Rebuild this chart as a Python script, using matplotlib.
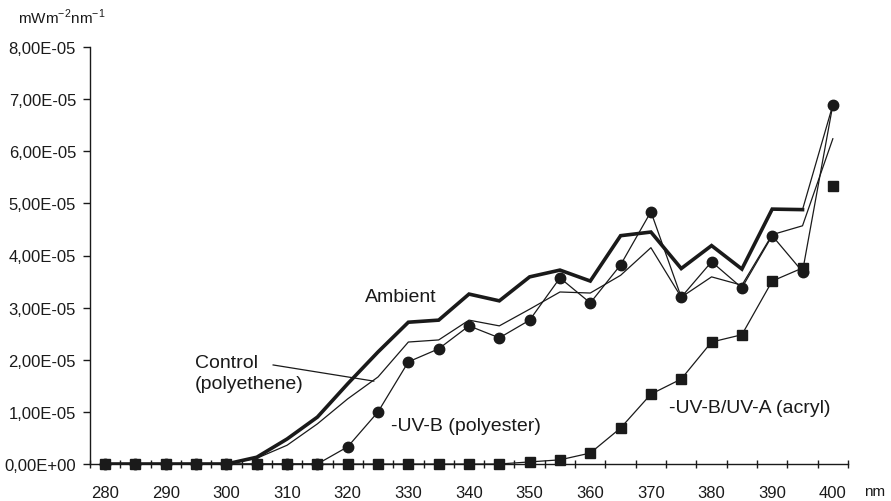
import matplotlib
matplotlib.use("Agg")
import matplotlib.pyplot as plt

plt.rcParams['font.family'] = ['Liberation Sans', 'DejaVu Sans']

wavelength = [280, 285, 290, 295, 300, 305, 310, 315, 320, 325, 330, 335, 340,
              345, 350, 355, 360, 365, 370, 375, 380, 385, 390, 395, 400]
ambient = [0, 0, 0, 0, 0, 0.13, 0.48, 0.90, 1.54, 2.15, 2.72, 2.76, 3.26,
           3.13, 3.59, 3.72, 3.51, 4.38, 4.45, 3.75, 4.19, 3.74, 4.89, 4.88, 6.89]
control = [0, 0, 0, 0, 0, 0.11, 0.36, 0.77, 1.25, 1.67, 2.34, 2.38, 2.76,
           2.65, 2.97, 3.30, 3.28, 3.62, 4.15, 3.20, 3.59, 3.43, 4.40, 4.57, 6.24]
uvb_polyester = [0, 0, 0, 0, 0, 0, 0, 0, 0.33, 1.00, 1.96, 2.21, 2.65,
                 2.42, 2.76, 3.57, 3.09, 3.82, 4.84, 3.20, 3.88, 3.38, 4.38, 3.69, 6.89]
uvba_acryl = [0, 0, 0, 0, 0, 0, 0, 0, 0, 0, 0, 0, 0,
              0, 0.04, 0.08, 0.21, 0.69, 1.34, 1.63, 2.34, 2.48, 3.51, 3.76, 5.34]
scale = 1e-5

ytick_vals = [0, 1, 2, 3, 4, 5, 6, 7, 8]
ytick_labels = ["0,00E+00", "1,00E-05", "2,00E-05", "3,00E-05", "4,00E-05",
                "5,00E-05", "6,00E-05", "7,00E-05", "8,00E-05"]
xtick_labels = [280, 290, 300, 310, 320, 330, 340, 350, 360, 370, 380, 390, 400]

amb = [v * scale for v in ambient]
ctl = [v * scale for v in control]
pol = [v * scale for v in uvb_polyester]
acr = [v * scale for v in uvba_acryl]

fig = plt.figure(figsize=(8.91, 5.02), dpi=100)
ax = fig.add_axes([90/891, 1-465/502, (848-90)/891, (465-48)/502])

c = '#1a1a1a'
ax.plot(wavelength[:-1], amb[:-1], color=c, lw=2.6, solid_joinstyle='miter', zorder=3)
ax.plot(wavelength[-2:], amb[-2:], color=c, lw=0.9, zorder=3)
ax.plot(wavelength, ctl, color=c, lw=0.9, zorder=3)
ax.plot(wavelength, pol, color=c, lw=0.9, marker='o', ms=7.5, mfc=c, mec=c,
        zorder=4, clip_on=False)
ax.plot(wavelength[:-1], acr[:-1], color=c, lw=0.9, zorder=5, clip_on=False)
ax.plot(wavelength, acr, ls='none', marker='s', ms=7.3, mfc=c, mec=c,
        zorder=5, clip_on=False)

ax.set_xlim(277.5, 402.5)
ax.set_ylim(0, 8e-5)

for s in ['top', 'right']:
    ax.spines[s].set_visible(False)
for s in ['left', 'bottom']:
    ax.spines[s].set_color(c)
    ax.spines[s].set_linewidth(1.0)

ax.set_yticks([v * scale for v in ytick_vals])
ax.set_yticklabels(ytick_labels, fontsize=12)
ax.tick_params(axis='y', direction='out', length=5, width=1.0, pad=5, colors=c)

ax.set_xticks(xtick_labels)
ax.set_xticklabels([str(v) for v in xtick_labels], fontsize=12)
ax.set_xticks([277.5 + 5 * i for i in range(26)], minor=True)
ax.tick_params(axis='x', which='major', length=0, pad=15, colors=c)
ax.tick_params(axis='x', which='minor', direction='inout', length=6, width=1.0, colors=c)

ax.text(322.9, 3.22e-5, "Ambient", fontsize=14, va='center', ha='left', color=c)
ax.text(294.8, 1.74e-5, "Control\n(polyethene)", fontsize=14, va='center',
        ha='left', color=c, linespacing=1.3)
ax.plot([307.7, 324.3], [1.90e-5, 1.59e-5], color=c, lw=0.9, zorder=2)
ax.text(327.1, 0.74e-5, "-UV-B (polyester)", fontsize=14, va='center', ha='left', color=c)
ax.text(372.9, 1.09e-5, "-UV-B/UV-A (acryl)", fontsize=14, va='center', ha='left', color=c)

fig.text(864/891, 1-492/502, "nm", fontsize=11, va='center', ha='left', color=c)
fig.text(18/891, 1-17/502, r"mWm$^{\mathregular{-2}}$nm$^{\mathregular{-1}}$",
         fontsize=11, va='center', ha='left', color=c)

fig.savefig("out.png", dpi=100)
